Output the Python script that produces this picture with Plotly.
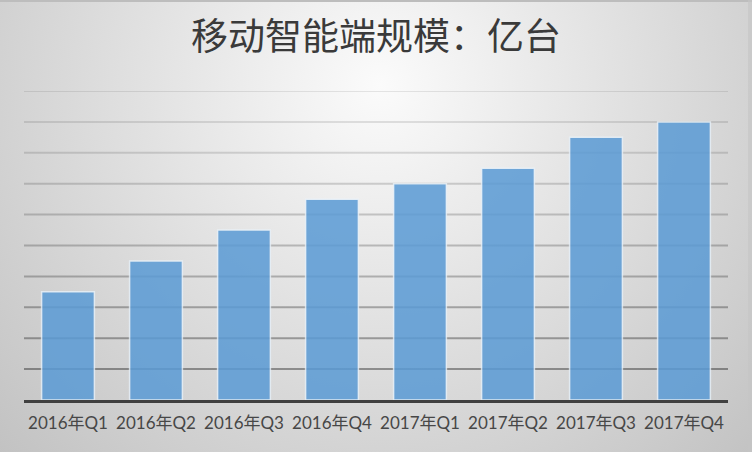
import base64
import plotly.graph_objects as go

# data (unit: one gridline step)
quarters = ["2016年Q1", "2016年Q2", "2016年Q3", "2016年Q4",
            "2017年Q1", "2017年Q2", "2017年Q3", "2017年Q4"]
scale = [3.5, 4.5, 5.5, 6.5, 7.0, 7.5, 8.5, 9.0]
grid_values = [1, 2, 3, 4, 5, 6, 7, 8, 9, 10]

W, H = 752, 452
L, R, T, B = 24, 24, 91, 52
pw, ph = W - L - R, H - T - B

# radial grey background, drawn as an svg picture behind the chart
svg = f"""<svg xmlns='http://www.w3.org/2000/svg' width='{W}' height='{H}'>
<defs><radialGradient id='g' gradientUnits='userSpaceOnUse' cx='380' cy='85' r='530'>
<stop offset='0' stop-color='#fbfbfb'/><stop offset='1' stop-color='#c2c2c2'/>
</radialGradient></defs>
<rect width='{W}' height='{H}' fill='url(#g)'/>
<rect width='{W}' height='2' fill='#bdbdbd'/>
<rect x='{W-4}' width='4' height='{H}' fill='#c4c4c4' opacity='0.6'/>
</svg>"""
bg = "data:image/svg+xml;base64," + base64.b64encode(svg.encode()).decode()

fig = go.Figure()
fig.add_trace(go.Bar(
    x=quarters, y=scale,
    width=0.6,
    marker=dict(color="#5b9bd5", opacity=0.86,
                line=dict(color="rgba(235,243,250,0.9)", width=1.5)),
    hoverinfo="x+y",
))

# gridlines get darker towards the bottom, like the original
shapes = []
for v in grid_values:
    a = 0.09 + 0.27 * ((10 - v) / 9) ** 1.3
    shapes.append(dict(type="line", xref="paper", yref="y", x0=0, x1=1, y0=v, y1=v,
                       line=dict(color=f"rgba(0,0,0,{a:.3f})", width=2), layer="below"))

fig.update_layout(
    width=W, height=H,
    margin=dict(l=L, r=R, t=T, b=B),
    paper_bgcolor="rgba(0,0,0,0)",
    plot_bgcolor="rgba(0,0,0,0)",
    showlegend=False,
    bargap=0.4,
    shapes=shapes,
    images=[dict(source=bg, xref="paper", yref="paper",
                 x=-L / pw, y=1 + T / ph, sizex=W / pw, sizey=H / ph,
                 xanchor="left", yanchor="top", sizing="stretch", layer="below")],
    title=dict(text="移动智能端规模：亿台", x=0.5, xanchor="center",
               y=1 - 37 / H, yanchor="middle", yref="container",
               font=dict(family="Noto Sans CJK SC", size=37, color="#3a3a3a")),
    xaxis=dict(showline=True, linecolor="#404040", linewidth=3,
               ticks="outside", ticklen=6, tickcolor="rgba(0,0,0,0)",
               tickfont=dict(family="Lato, Noto Sans CJK SC", size=17, color="#474747"),
               showgrid=False, fixedrange=True),
    yaxis=dict(range=[0, 10], showgrid=False, zeroline=False,
               showticklabels=False, fixedrange=True),
)

fig.write_html("out.html", config={"displayModeBar": False},
               post_script="document.body.style.margin='0';")
